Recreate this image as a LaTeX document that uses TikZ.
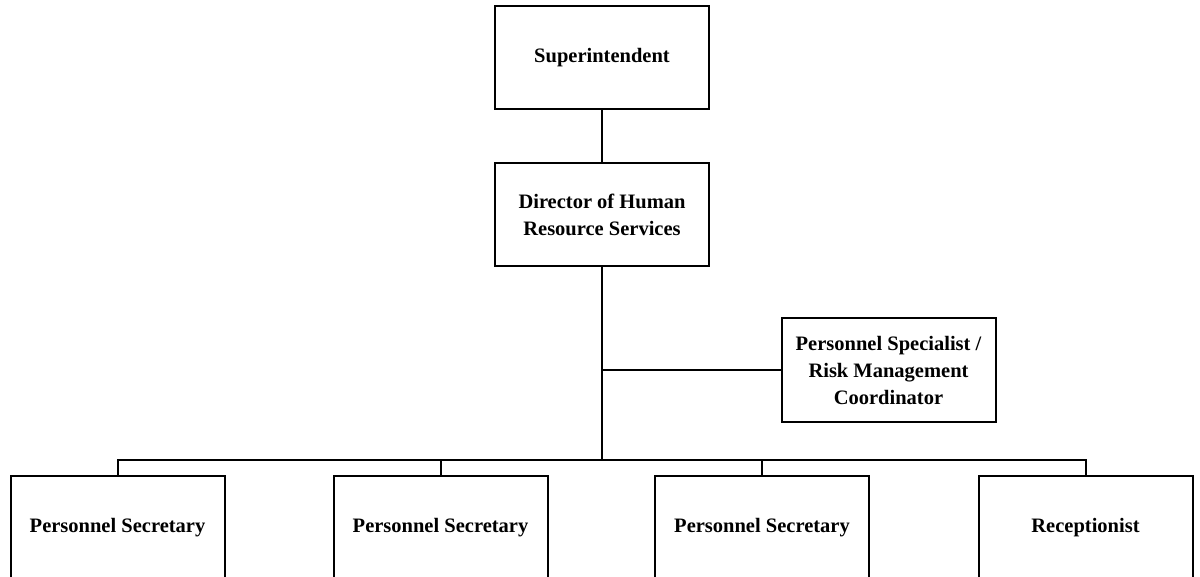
\documentclass[tikz,border=0pt]{standalone}
\usepackage{fontspec}
\setmainfont{Liberation Serif}
\begin{document}
\begin{tikzpicture}[x=1pt,y=-1pt,
  line width=2pt,
  post/.style={draw, fill=white, line width=2pt, minimum width=214pt, minimum height=103pt,
    inner sep=0pt, align=center,
    font=\fontsize{20.5pt}{27pt}\selectfont\bfseries},
  link/.style={draw, line width=2pt}]
  \useasboundingbox (0,0) rectangle (1200,577);
  \clip (0,0) rectangle (1200,577);
  % top of the chart
  \node[post] (sup) at (602,58) {Superintendent};
  \node[post] (dir) at (602,214.5) {Director of Human\\Resource Services};
  % staff post at the side
  \node[post] (spec) at (888.5,370) {Personnel Specialist /\\Risk Management\\Coordinator};
  % bottom row (boxes run past the lower edge)
  \node[post, minimum height=104pt] (ps1) at (117.5,528) {Personnel Secretary};
  \node[post, minimum height=104pt] (ps2) at (440.5,528) {Personnel Secretary};
  \node[post, minimum height=104pt] (ps3) at (762,528) {Personnel Secretary};
  \node[post, minimum height=104pt] (rec) at (1085.5,528) {Receptionist};
  \coordinate (bus) at (0,460);
  % connectors
  \draw[link] (sup.south) -- (dir.north);
  \draw[link] (dir.south) -- (dir.south |- bus);
  \draw[link] (dir.south |- spec.west) -- (spec.west);
  \draw[link] (ps1.north) -- (ps1.north |- bus) -- (rec.north |- bus) -- (rec.north);
  \draw[link] (ps2.north) -- (ps2.north |- bus);
  \draw[link] (ps3.north) -- (ps3.north |- bus);
\end{tikzpicture}
\end{document}
